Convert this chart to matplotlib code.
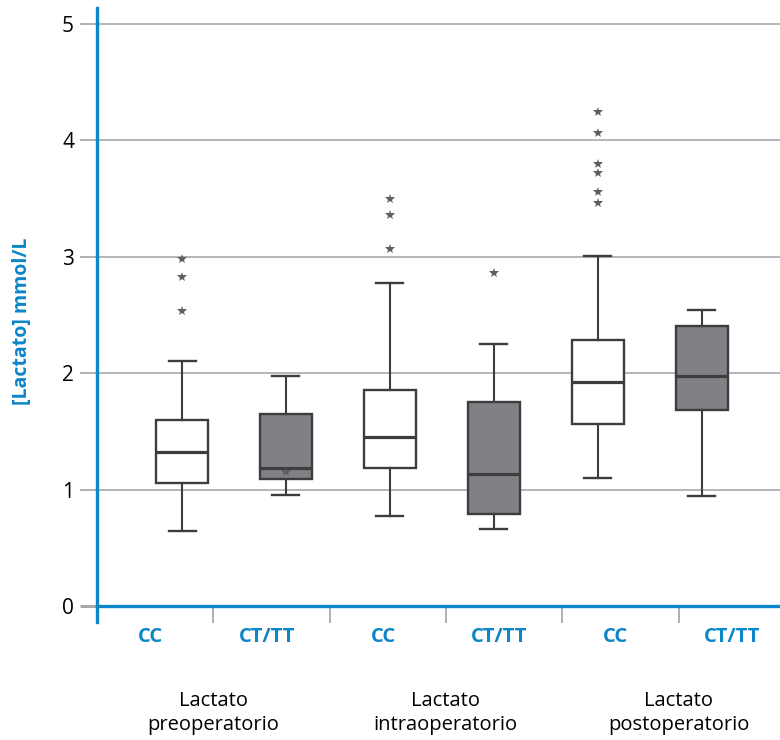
import matplotlib
matplotlib.use("Agg")
import matplotlib.pyplot as plt
import matplotlib.transforms as mtransforms
import numpy as np

plt.rcParams['font.family'] = ['Open Sans', 'DejaVu Sans']

# ---- data ----
genotypes = ["CC", "CT/TT", "CC", "CT/TT", "CC", "CT/TT"]
groups = ["Lactato\npreoperatorio", "Lactato\nintraoperatorio", "Lactato\npostoperatorio"]
whisker_low = [0.644, 0.951, 0.773, 0.664, 1.097, 0.948]
q1 = [1.057, 1.094, 1.188, 0.788, 1.564, 1.684]
median = [1.326, 1.186, 1.452, 1.131, 1.924, 1.976]
q3 = [1.595, 1.647, 1.858, 1.750, 2.285, 2.408]
whisker_high = [2.102, 1.976, 2.772, 2.248, 3.009, 2.543]
outliers = [
    [2.979, 2.824, 2.532],
    [1.151],
    [3.494, 3.356, 3.064],
    [2.861],
    [4.241, 4.066, 3.797, 3.717, 3.559, 3.460],
    [],
]
y_ticks = [0, 1, 2, 3, 4, 5]
y_label = "[Lactato] mmol/L"

# ---- style ----
BLUE = "#0b86c8"
GRID = "#a7a9ac"
EDGE = "#3d3d3f"
FILL = ["white", "#808184", "white", "#808184", "white", "#808184"]

fig = plt.figure(figsize=(7.8, 7.4), dpi=100)
ax = fig.add_axes([97 / 780, 1 - 622 / 740, 1 - 97 / 780, (622 - 8) / 740])

for s in ['top', 'right']:
    ax.spines[s].set_visible(False)
ax.spines['left'].set_color(BLUE)
ax.spines['left'].set_linewidth(2.4)
ax.spines['bottom'].set_color(BLUE)
ax.spines['bottom'].set_linewidth(2.4)
ax.spines['bottom'].set_position(('data', 0))

n = len(genotypes)
box_pos = 0.731 + 0.894 * np.arange(n)
label_pos = np.arange(n) + 0.46
sep_pos = np.arange(1, n)

stats = []
for i in range(n):
    stats.append(dict(whislo=whisker_low[i], q1=q1[i], med=median[i], q3=q3[i],
                      whishi=whisker_high[i], fliers=[]))

bp = ax.bxp(stats, positions=box_pos, widths=0.447, patch_artist=True,
            showfliers=False, manage_ticks=False,
            boxprops=dict(edgecolor=EDGE, linewidth=1.7),
            whiskerprops=dict(color=EDGE, linewidth=1.5),
            capprops=dict(color=EDGE, linewidth=1.7),
            medianprops=dict(color=EDGE, linewidth=2.3),
            capwidths=0.232, zorder=3)
for patch, fc in zip(bp['boxes'], FILL):
    patch.set_facecolor(fc)

for i in range(n):
    if outliers[i]:
        ax.plot(np.full(len(outliers[i]), box_pos[i]), outliers[i], linestyle='none',
                marker='*', markersize=7, color="#5d5e60", markeredgewidth=0, zorder=4)

ax.set_xlim(0, (780 - 97) / 116.3)
ax.set_ylim(-(622 - 606) / 116.4, (606 - 8) / 116.4)

ax.set_yticks(y_ticks)
ax.set_yticklabels([str(t) for t in y_ticks], fontsize=15, color="black")
ax.tick_params(axis='y', length=12.5, width=1.3, color=GRID, pad=4)
ax.yaxis.get_major_ticks()[0].tick1line.set_color(BLUE)
ax.yaxis.get_major_ticks()[0].tick1line.set_markeredgewidth(2.2)
ax.grid(axis='y', color=GRID, linewidth=1.2, zorder=0)
ax.set_axisbelow(True)

ax.set_xticks(label_pos)
ax.set_xticks(sep_pos, minor=True)
ax.set_xticklabels(genotypes, fontsize=14.5, fontweight='bold', color=BLUE)
ax.tick_params(axis='x', which='major', length=0, pad=15)
ax.tick_params(axis='x', which='minor', length=12, width=1.3, color=GRID)

trans = mtransforms.blended_transform_factory(ax.transData, fig.transFigure)
for k, g in enumerate(groups):
    ax.text(sep_pos[2 * k], 1 - 713 / 740, g, transform=trans, ha='center', va='center',
            fontsize=14.5, color="black", linespacing=1.3)

fig.text(22 / 780, 1 - 321 / 740, y_label, rotation=90, ha='center', va='center',
         fontsize=14, fontweight='bold', color=BLUE)

fig.savefig("out.png", dpi=100)
